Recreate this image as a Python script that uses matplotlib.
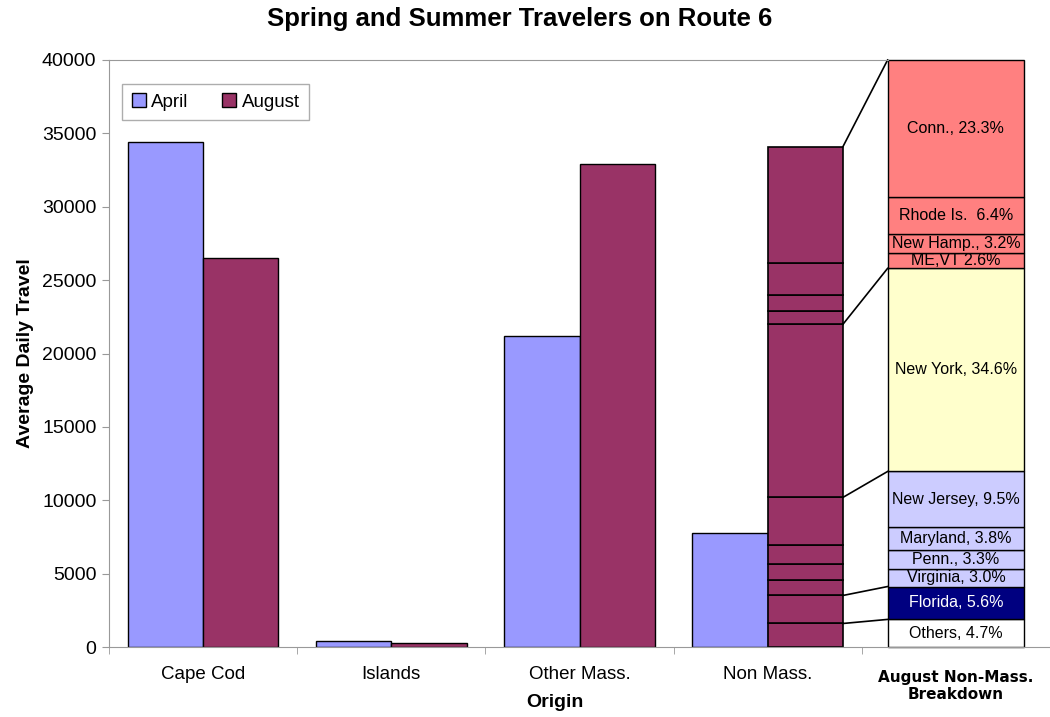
import numpy as np
import matplotlib.pyplot as plt

# Average daily travel by origin
categories = ["Cape Cod", "Islands", "Other Mass.", "Non Mass."]
april = [34400, 400, 21200, 7800]
august = [26500, 300, 32900, 34100]

# August non-Mass. breakdown, listed bottom to top
shares = [4.7, 5.6, 3.0, 3.3, 3.8, 9.5, 34.6, 2.6, 3.2, 6.4, 23.3]
share_labels = ["Others, 4.7%", "Florida, 5.6%", "Virginia, 3.0%", "Penn., 3.3%",
                "Maryland, 3.8%", "New Jersey, 9.5%", "New York, 34.6%", "ME,VT 2.6%",
                "New Hamp., 3.2%", "Rhode Is.  6.4%", "Conn., 23.3%"]
share_colors = ["#FFFFFF", "#000080", "#CCCCFF", "#CCCCFF", "#CCCCFF", "#CCCCFF",
                "#FFFFCC", "#FF8080", "#FF8080", "#FF8080", "#FF8080"]
# region boundaries that get a connector (index of segment whose top is joined)
groups_top = [0, 1, 5, 6, 10]

plt.rcParams['font.family'] = ['Liberation Sans', 'DejaVu Sans']

fig = plt.figure(figsize=(10.5, 7.17), dpi=100)
ax = fig.add_axes([109/1050, 1 - 647/717, 941/1050, 587/717])

x = np.arange(len(categories))
w = 0.4
ax.bar(x - w/2, april, w, color="#9999FF", edgecolor="black", linewidth=1, label="April")
ax.bar(x[:-1] + w/2, august[:-1], w, color="#993366", edgecolor="black", linewidth=1, label="August")

# Non Mass. August bar split by state share
cum = np.concatenate([[0], np.cumsum(shares)]) / 100.0
nm = august[-1]
for i in range(len(shares)):
    ax.bar(x[-1] + w/2, nm * (cum[i+1] - cum[i]), w, bottom=nm * cum[i],
           color="#993366", edgecolor="black", linewidth=1.2)

ymax = 40000
ax.set_ylim(0, ymax)
ax.set_xlim(-0.5, (1050 - 204) / 190)

# breakdown column scaled to full axis height
bx = 4
bw = 0.726
for i in range(len(shares)):
    bot = ymax * cum[i]
    h = ymax * (cum[i+1] - cum[i])
    ax.bar(bx, h, bw, bottom=bot, color=share_colors[i], edgecolor="black",
           linewidth=1, clip_on=False)
    tc = "white" if share_colors[i] == "#000080" else "black"
    ax.text(bx, bot + h/2, share_labels[i], ha="center", va="center",
            fontsize=11.5, color=tc)

# connectors between the Non Mass. bar and the breakdown
for i in groups_top:
    ax.plot([x[-1] + w, bx - bw/2], [nm * cum[i+1], ymax * cum[i+1]],
            color="black", linewidth=1.2, clip_on=False)

ax.set_yticks(np.arange(0, 40001, 5000))
ax.set_xticks(list(x) + [bx])
ax.set_xticklabels(categories + [""])
ax.set_xticks(np.arange(-0.5, 5, 1), minor=True)
ax.tick_params(axis="x", which="major", length=0, pad=14, labelsize=13.5)
ax.tick_params(axis="x", which="minor", length=5, color="#999999", direction="out")
ax.tick_params(axis="y", length=5, color="#999999", labelsize=14, pad=4)

ax.text(bx, -1600, "August Non-Mass.\nBreakdown", ha="center", va="top",
        fontsize=11, fontweight="bold", family=["DejaVu Sans"], linespacing=1.1)

for s in ["left", "bottom", "top"]:
    ax.spines[s].set_color("#999999")
ax.spines["right"].set_visible(False)
ax.spines["top"].set_bounds(-0.5, bx - bw/2)

ax.set_ylabel("Average Daily Travel", fontsize=14, fontweight="bold", labelpad=6)
ax.set_xlabel("Origin", fontsize=14, fontweight="bold", labelpad=4)
ax.xaxis.set_label_coords((555 - 109) / 941, -0.08)
fig.suptitle("Spring and Summer Travelers on Route 6", fontsize=18.5,
             fontweight="bold", x=0.495, y=0.99)

leg = ax.legend(loc="upper left", bbox_to_anchor=(0.004, 0.975), ncol=2,
                fontsize=13.5, fancybox=False, edgecolor="#999999",
                handlelength=0.75, handleheight=0.75, columnspacing=1.8,
                borderpad=0.5, handletextpad=0.3)
leg.get_frame().set_linewidth(1)

fig.savefig("out.png", dpi=100)
